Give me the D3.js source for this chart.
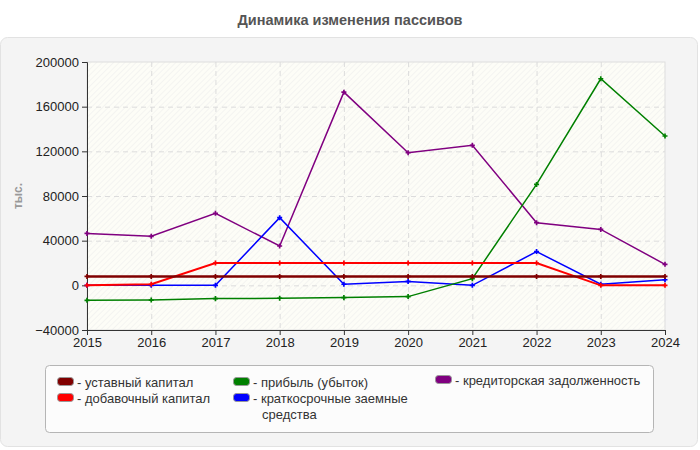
<!DOCTYPE html>
<html>
<head>
<meta charset="utf-8">
<script src="https://cdn.jsdelivr.net/npm/d3@7"></script>
<style>
  body { margin: 0; background: #fff; font-family: "Liberation Sans", Arial, sans-serif; }
</style>
</head>
<body>
<div id="chart"></div>
<script>
const years = [2015, 2016, 2017, 2018, 2019, 2020, 2021, 2022, 2023, 2024];
const ustavny = [8000, 8000, 8000, 8000, 8000, 8000, 8000, 8000, 8000, 8000];
const dobavochny = [0, 1000, 20000, 20000, 20000, 20000, 20000, 20000, 0, 0];
const pribyl = [-13400, -13200, -11900, -11600, -11000, -10100, 6000, 90400, 185000, 133700];
const kratkosrochnye = [0, 0, 0, 60600, 1000, 3500, 0, 30200, 1000, 5000];
const kreditorskaya = [46500, 43900, 64500, 35200, 173000, 118800, 125400, 56100, 50100, 18800];
const yTicks = [-40000, 0, 40000, 80000, 120000, 160000, 200000];

const series = [
  {name: "- уставный капитал", color: "#800000", values: ustavny, w: 2.5},
  {name: "- добавочный капитал", color: "#ff0000", values: dobavochny, w: 2},
  {name: "- прибыль (убыток)", color: "#008000", values: pribyl, w: 1.5},
  {name: ["- краткосрочные заемные", "средства"], color: "#0000ff", values: kratkosrochnye, w: 1.5},
  {name: "- кредиторская задолженность", color: "#800080", values: kreditorskaya, w: 1.5}
];

function draw() {
  const width = 700, height = 450;
  const svg = d3.select("#chart").append("svg")
    .attr("width", width).attr("height", height);

  svg.append("text")
    .attr("x", 350).attr("y", 25)
    .attr("text-anchor", "middle")
    .style("font-size", "14.5px").style("font-weight", "bold")
    .attr("fill", "#555")
    .text("Динамика изменения пассивов");

  // panel
  svg.append("rect")
    .attr("x", 0.5).attr("y", 37.5).attr("width", 697).attr("height", 409)
    .attr("rx", 7)
    .attr("fill", "#f4f4f4").attr("stroke", "#e2e2e2");

  const defs = svg.append("defs");
  const pat = defs.append("pattern")
    .attr("id", "hatch").attr("patternUnits", "userSpaceOnUse")
    .attr("width", 4).attr("height", 4)
    .attr("patternTransform", "rotate(-45)");
  pat.append("rect").attr("width", 4).attr("height", 4).attr("fill", "#fdfdf7");
  pat.append("line").attr("x1", 0).attr("y1", 0).attr("x2", 4).attr("y2", 0)
    .attr("stroke", "#ececec").attr("stroke-width", 1);

  const x = d3.scaleLinear().domain([2015, 2024]).range([87, 665]);
  const y = d3.scaleLinear().domain([-40000, 200000]).range([330, 62]);

  svg.append("rect")
    .attr("x", 87).attr("y", 62).attr("width", 578).attr("height", 268)
    .attr("fill", "url(#hatch)").attr("stroke", "#ddd");

  // grid
  const grid = svg.append("g").attr("stroke", "#dcdcdc").attr("stroke-dasharray", "5,4");
  grid.selectAll(".gy").data(yTicks.slice(1, -1)).join("line")
    .attr("x1", 87).attr("x2", 665)
    .attr("y1", d => y(d) + 0.5).attr("y2", d => y(d) + 0.5);
  grid.selectAll(".gx").data(years.slice(1, -1)).join("line")
    .attr("y1", 62).attr("y2", 330)
    .attr("x1", d => x(d) + 0.5).attr("x2", d => x(d) + 0.5);

  const yAxis = svg.append("g")
    .attr("transform", "translate(87,0)")
    .call(d3.axisLeft(y).tickValues(yTicks).tickSize(5).tickPadding(3).tickFormat(d3.format("d")));
  const xAxis = svg.append("g")
    .attr("transform", "translate(0,330)")
    .call(d3.axisBottom(x).tickValues(years).tickSize(5).tickPadding(3).tickFormat(d3.format("d")));
  [yAxis, xAxis].forEach(a => {
    a.select(".domain").attr("stroke", "#333");
    a.selectAll(".tick line").attr("stroke", "#333");
    a.selectAll("text").attr("fill", "#222")
      .style("font-family", "'Liberation Sans', Arial, sans-serif").style("font-size", "13px");
  });

  svg.append("text")
    .attr("transform", "translate(22,196) rotate(-90)")
    .attr("text-anchor", "middle")
    .style("font-size", "12px").style("font-weight", "bold")
    .attr("fill", "#999")
    .text("тыс.");

  const line = d3.line().x((d, i) => x(years[i])).y(d => y(d));
  const marker = d3.symbol().type(d3.symbolCross).size(14);

  const order = [4, 3, 2, 1, 0];
  order.forEach(k => {
    const s = series[k];
    svg.append("path").datum(s.values)
      .attr("d", line).attr("fill", "none")
      .attr("stroke", s.color).attr("stroke-width", s.w);
    svg.append("g").selectAll("path").data(s.values).join("path")
      .attr("d", marker)
      .attr("transform", (d, i) => `translate(${x(years[i])},${y(d)})`)
      .attr("fill", s.color);
  });

  // legend
  svg.append("rect")
    .attr("x", 45.5).attr("y", 365.5).attr("width", 608).attr("height", 67)
    .attr("rx", 4)
    .attr("fill", "#fcfcfc").attr("stroke", "#b5b5b5");

  const pos = [[57, 382], [57, 398], [233, 382], [233, 398], [435, 380]];
  series.forEach((s, i) => {
    const g = svg.append("g").attr("transform", `translate(${pos[i][0]},${pos[i][1]})`);
    g.append("rect").attr("x", 0.5).attr("y", -4.5).attr("width", 16).attr("height", 8)
      .attr("rx", 3).attr("fill", s.color).attr("stroke", "#999");
    const names = Array.isArray(s.name) ? s.name : [s.name];
    const t = g.append("text").attr("y", 4.5)
      .style("font-size", "13px").attr("fill", "#333");
    names.forEach((n, j) => {
      t.append("tspan").attr("x", j === 0 ? 20 : 29).attr("dy", j === 0 ? 0 : 16).text(n);
    });
  });
}
draw();
</script>
</body>
</html>
